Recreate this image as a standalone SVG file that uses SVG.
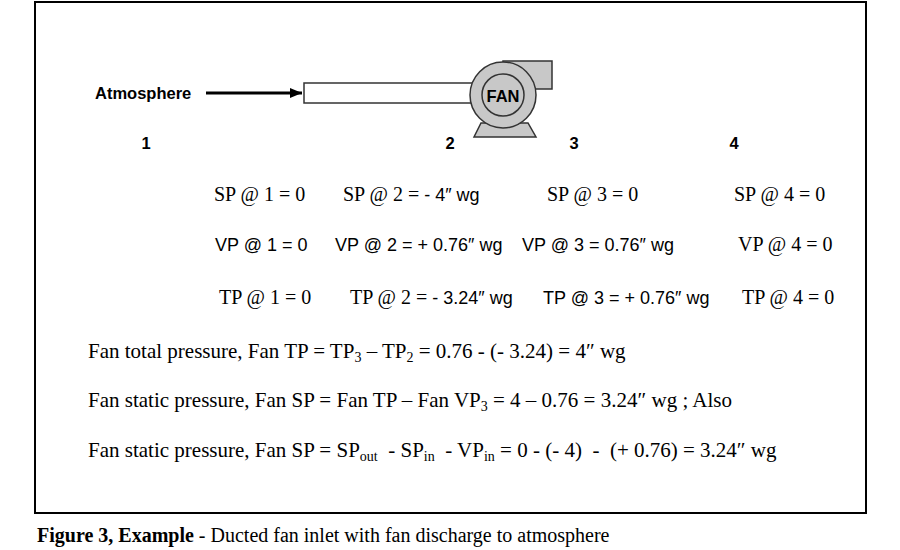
<svg xmlns="http://www.w3.org/2000/svg" width="900" height="550" viewBox="0 0 900 550">
<style>
.s{font-family:"Liberation Serif",serif;font-size:20px;fill:#000}
.t{font-family:"Liberation Serif",serif;font-size:21px;fill:#000}
.a{font-family:"Liberation Sans",sans-serif;font-size:18px;fill:#000}
.b{font-family:"Liberation Sans",sans-serif;font-size:16.5px;font-weight:bold;fill:#000}
.g{fill:#c8c8c8;stroke:#333;stroke-width:1.5}
</style>
<defs><marker id="ah" markerWidth="12" markerHeight="10" refX="12" refY="5" orient="auto" markerUnits="userSpaceOnUse"><path d="M0,0 L12,5 L0,10 Z" fill="#000"/></marker></defs>
<rect x="35" y="2" width="831" height="511" fill="#fff" stroke="#000" stroke-width="2"/>
<g id="atmosphere"><text class="b" x="95" y="99" font-size="17">Atmosphere</text></g>
<g id="connectors"><line x1="206" y1="93" x2="302" y2="93" stroke="#000" stroke-width="3" marker-end="url(#ah)"/></g>
<g id="duct"><rect x="304" y="83" width="170" height="20" fill="#fff" stroke="#333" stroke-width="1.5"/></g>
<g id="fan">
<polygon class="g" points="481,123 528,123 536,137 474,137"/>
<rect class="g" x="503" y="61" width="49" height="28"/>
<circle class="g" cx="503" cy="95" r="33"/>
<circle class="g" cx="503" cy="95" r="21"/>
<text class="b" x="503" y="102" text-anchor="middle" font-size="18">FAN</text>
</g>
<g id="labels">
<text class="b" x="146" y="149" text-anchor="middle">1</text>
<text class="b" x="450" y="149" text-anchor="middle">2</text>
<text class="b" x="574" y="149" text-anchor="middle">3</text>
<text class="b" x="734" y="149" text-anchor="middle">4</text>
</g>
<g id="table">
<text class="s" x="214" y="201">SP @ 1 = 0</text>
<text x="343" y="201"><tspan class="s">SP @ 2 = </tspan><tspan class="a">- 4″ wg</tspan></text>
<text class="s" x="547" y="201">SP @ 3 = 0</text>
<text class="s" x="734" y="201">SP @ 4 = 0</text>
<text class="a" x="215" y="251">VP @ 1 = 0</text>
<text class="a" x="335" y="251">VP @ 2 = + 0.76″ wg</text>
<text class="a" x="522" y="251">VP @ 3 = 0.76″ wg</text>
<text class="s" x="738" y="251">VP @ 4 = 0</text>
<text class="s" x="219" y="304">TP @ 1 = 0</text>
<text x="350" y="304"><tspan class="s">TP @ 2 = </tspan><tspan class="a">- 3.24″ wg</tspan></text>
<text class="a" x="543" y="304">TP @ 3 = + 0.76″ wg</text>
<text class="s" x="742" y="304">TP @ 4  = 0</text>
<text class="t" x="88" y="358">Fan total pressure, Fan TP = TP<tspan font-size="14" dy="4">3</tspan><tspan dy="-4"> – TP</tspan><tspan font-size="14" dy="4">2</tspan><tspan dy="-4"> = 0.76 - (- 3.24) = 4″ wg</tspan></text>
<text class="t" x="88" y="407">Fan static pressure, Fan SP = Fan TP – Fan VP<tspan font-size="14" dy="4">3</tspan><tspan dy="-4"> = 4 – 0.76 = 3.24″ wg ; Also</tspan></text>
<text class="t" x="88" y="457" xml:space="preserve">Fan static pressure, Fan SP = SP<tspan font-size="14" dy="4">out</tspan><tspan dy="-4">  - SP</tspan><tspan font-size="14" dy="4">in</tspan><tspan dy="-4">  - VP</tspan><tspan font-size="14" dy="4">in</tspan><tspan dy="-4"> = 0 - (- 4)  -  (+ 0.76) = 3.24″ wg</tspan></text>
</g>
<text class="s" x="37" y="542" font-size="21.5"><tspan font-weight="bold">Figure 3, Example</tspan> - Ducted fan inlet with fan discharge to atmosphere</text>
</svg>
